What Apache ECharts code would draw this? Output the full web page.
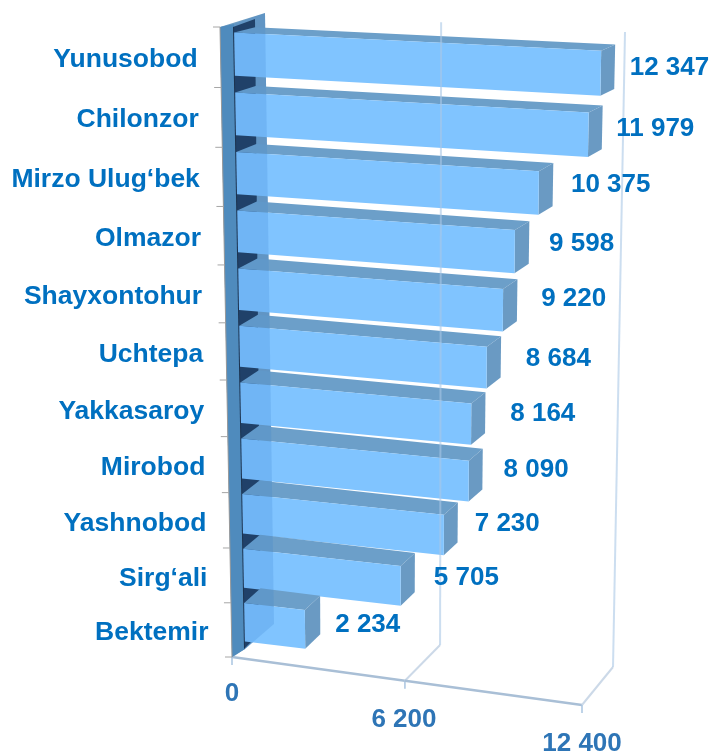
<!DOCTYPE html>
<html><head><meta charset="utf-8">
<style>html,body{margin:0;padding:0;background:#fff}#c{width:710px;height:751px}</style>
<script src="https://cdn.jsdelivr.net/npm/echarts@6/dist/echarts.min.js"></script>
</head><body><div id="c"></div>
<script>
const categories = ['Yunusobod','Chilonzor','Mirzo Ulug‘bek','Olmazor','Shayxontohur','Uchtepa','Yakkasaroy','Mirobod','Yashnobod','Sirg‘ali','Bektemir'];
const values = [12347,11979,10375,9598,9220,8684,8164,8090,7230,5705,2234];
const valueLabels = ['12 347','11 979','10 375','9 598','9 220','8 684','8 164','8 090','7 230','5 705','2 234'];
const gridValues = [0,6200,12400];
const gridLabels = ['0','6 200','12 400'];

// layout constants: perspective planes (screen corners of the unit plot square)
function plane(p0,p1,p3,p2){
  const dx1=p1[0]-p2[0],dx2=p3[0]-p2[0],dy1=p1[1]-p2[1],dy2=p3[1]-p2[1];
  const sx=p0[0]-p1[0]+p2[0]-p3[0],sy=p0[1]-p1[1]+p2[1]-p3[1];
  const det=dx1*dy2-dx2*dy1;
  const g=(sx*dy2-dx2*sy)/det,h=(dx1*sy-sx*dy1)/det;
  const a=p1[0]-p0[0]+g*p1[0],b=p3[0]-p0[0]+h*p3[0],c=p0[0];
  const d=p1[1]-p0[1]+g*p1[1],e=p3[1]-p0[1]+h*p3[1],f=p0[1];
  return (u,w)=>{const q=g*u+h*w+1;return [(a*u+b*w+c)/q,(d*u+e*w+f)/q];};
}
const frameFront = plane([220,27],[592,62],[232,657],[582,705]);
const frameBack  = plane([265,13],[625,32],[274,624],[613,667]);
const barFront   = plane([234,24],[603,42],[245,649],[591,691]);
const barBack    = plane([255,19],[617,36],[261,634],[603,679]);

const W=710,H=751,N=categories.length,GAP=0.14/N;
const labelDx=[15,14,18,20,24,25,25,21,17,19,15];
const labelDy=[1,1,0,1,-1,2,1,1,1,5,10];
const catDy=[2,2,3,3,3,3,3,3,3,3,3];
const gridLabelDy=[37,39,39];
const FONT='"Liberation Sans",Arial,sans-serif';

const uw=(api,v,i)=>{const c=api.coord([v,i]);return [c[0]/W,c[1]/H];};
const poly=(points,fill)=>({type:'polygon',shape:{points},style:{fill}});
const line=(a,b,stroke,lineWidth)=>({type:'line',shape:{x1:a[0],y1:a[1],x2:b[0],y2:b[1]},style:{stroke,lineWidth}});
const txt=(text,x,y,fill,align,size)=>({type:'text',style:{text,x,y,fill,align:align||'left',verticalAlign:'middle',font:'bold '+size+'px '+FONT}});

function renderFrame(p,api){
  const v=api.value(0),i=p.dataIndex;
  const u=uw(api,v,0)[0];
  const f=frameFront(u,1),b=frameBack(u,1);
  const kids=[line(f,b,'#ccd9e8',2),line(f,[f[0],f[1]+8],'#a9c4e0',1.5)];
  if(i<gridValues.length-1){const n=frameFront(uw(api,gridValues[i+1],0)[0],1);kids.push(line(f,n,'#a9bfd6',2.5));}
  kids.push(txt(gridLabels[i],f[0]-(i===1?1:0),f[1]+gridLabelDy[i],'#2e75b6','center',26));
  return {type:'group',children:kids};
}
function renderWall(p,api){
  const T=0,B=1;
  const bf=w=>barFront(0,w),bb=w=>barBack(0,w),ff=w=>frameFront(0,w),fb=w=>frameBack(0,w);
  const kids=[
    poly([ff(T),fb(T),fb(B),bf(B),ff(B)],'#6d9cc2'),
    poly([ff(T),bf(T),bf(B),ff(B)],'#4f8bbd'),
    poly([[bf(T)[0]-1,bf(T)[1]+3],bb(T),bb(.93),[bf(B)[0]+7,bf(B)[1]-8],[bf(B)[0]-1,bf(B)[1]]],'#1c3350'),
    line(ff(T),ff(B),'#9a9a9a',1)
  ];
  categories.forEach((c,k)=>{const a=ff(k/N);kids.push(line([a[0]-7,a[1]],a,'#a6a6a6',1));});
  const a=ff(1);kids.push(line([a[0]-7,a[1]],a,'#a6a6a6',1));
  return {type:'group',children:kids};
}
function renderBar(p,api){
  const v=api.value(0),i=api.value(1);
  const c=uw(api,v,i);
  const u=c[0],w0=c[1]-0.5/N+GAP,w1=c[1]+0.5/N-GAP;
  const fl=barFront(0,w0),fr=barFront(u,w0),fR=barFront(u,w1),fL=barFront(0,w1);
  const bl=barBack(0,w0),br=barBack(u,w0),bR=barBack(u,w1);
  return {type:'group',children:[
    poly([bl,br,fr,fl],'#6c9fc9'),
    poly([fr,br,bR,fR],'#6a9ac3'),
    poly([fl,fr,fR,fL],'#80c4ff')
  ]};
}
function renderOverlay(p,api){
  const f=w=>barFront(0,w),b=w=>frameBack(0,w);
  return {type:'polygon',shape:{points:[f(0),b(0),b(1),f(1)]},style:{fill:'rgba(50,125,205,0.2)'}};
}
function renderGridUp(p,api){
  const u=uw(api,api.value(0),0)[0];
  return line(frameBack(u,1),frameBack(u,0),'rgba(170,200,230,0.6)',2);
}
function renderLabels(p,api){
  const v=api.value(0),i=api.value(1);
  const c=uw(api,v,i);
  const b=barBack(c[0],c[1]),l=frameFront(0,c[1]);
  return {type:'group',children:[
    txt(valueLabels[i],b[0]+labelDx[i],b[1]+labelDy[i],'#0070c0','left',26),
    txt(categories[i],l[0]-23,l[1]+catDy[i],'#0070c0','right',26.5)
  ]};
}
const barData=values.map((v,i)=>[v,i]);
const chart=echarts.init(document.getElementById('c'),null,{renderer:'canvas'});
chart.setOption({
  animation:false,backgroundColor:'#fff',
  grid:{left:0,top:0,width:W,height:H},
  xAxis:{type:'value',min:0,max:12400,interval:6200,show:false},
  yAxis:{type:'category',data:categories,inverse:true,show:false},
  series:[
    {type:'custom',z:1,clip:false,silent:true,data:gridValues.map(v=>[v,0]),renderItem:renderFrame},
    {type:'custom',z:2,clip:false,silent:true,data:[[0,0]],renderItem:renderWall},
    {type:'custom',z:3,clip:false,silent:true,data:barData,renderItem:renderBar},
    {type:'custom',z:4,clip:false,silent:true,data:[[0,0]],renderItem:renderOverlay},
    {type:'custom',z:5,clip:false,silent:true,data:gridValues.slice(1).map(v=>[v,0]),renderItem:renderGridUp},
    {type:'custom',z:6,clip:false,silent:true,data:barData,renderItem:renderLabels}
  ]
});
</script></body></html>
